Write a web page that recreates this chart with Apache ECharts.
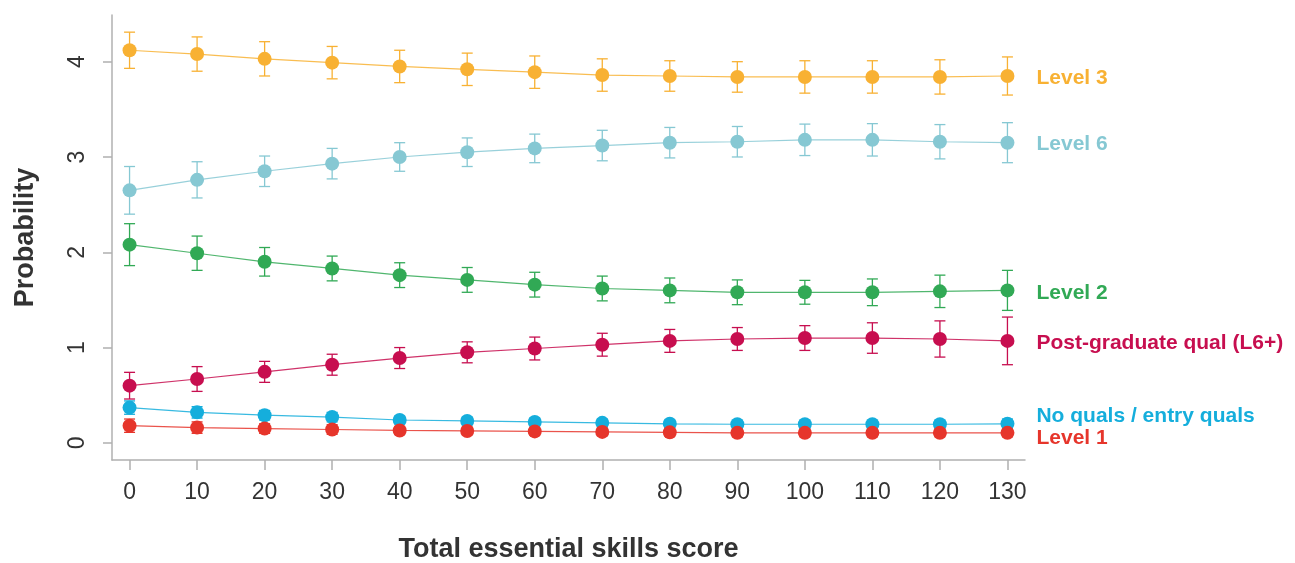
<!DOCTYPE html>
<html>
<head>
<meta charset="utf-8">
<script src="https://cdn.jsdelivr.net/npm/echarts@6/dist/echarts.min.js"></script>
<style>
html,body{margin:0;padding:0;background:#fff;}
#chart{width:1295px;height:563px;}
</style>
</head>
<body>
<div id="chart"></div>
<script>
var scores = [0, 10, 20, 30, 40, 50, 60, 70, 80, 90, 100, 110, 120, 130];
var xTicks = [0, 10, 20, 30, 40, 50, 60, 70, 80, 90, 100, 110, 120, 130];
var yTicks = [0, 1, 2, 3, 4];

var level3    = [4.12, 4.08, 4.03, 3.99, 3.95, 3.92, 3.89, 3.86, 3.85, 3.84, 3.84, 3.84, 3.84, 3.85];
var level3Err = [0.19, 0.18, 0.18, 0.17, 0.17, 0.17, 0.17, 0.17, 0.16, 0.16, 0.17, 0.17, 0.18, 0.20];

var level6    = [2.65, 2.76, 2.85, 2.93, 3.00, 3.05, 3.09, 3.12, 3.15, 3.16, 3.18, 3.18, 3.16, 3.15];
var level6Err = [0.25, 0.19, 0.16, 0.16, 0.15, 0.15, 0.15, 0.16, 0.16, 0.16, 0.165, 0.17, 0.18, 0.21];

var level2    = [2.08, 1.99, 1.90, 1.83, 1.76, 1.71, 1.66, 1.62, 1.60, 1.58, 1.58, 1.58, 1.59, 1.60];
var level2Err = [0.22, 0.18, 0.15, 0.13, 0.13, 0.13, 0.13, 0.13, 0.13, 0.13, 0.125, 0.14, 0.17, 0.21];

var postgrad    = [0.60, 0.67, 0.745, 0.82, 0.89, 0.95, 0.99, 1.03, 1.07, 1.09, 1.10, 1.10, 1.09, 1.07];
var postgradErr = [0.14, 0.13, 0.11, 0.11, 0.11, 0.11, 0.12, 0.12, 0.12, 0.12, 0.13, 0.16, 0.19, 0.25];

var noQuals    = [0.37, 0.32, 0.29, 0.27, 0.24, 0.23, 0.22, 0.21, 0.20, 0.195, 0.195, 0.195, 0.195, 0.20];
var noQualsErr = [0.07, 0.06, 0.05, 0.05, 0.04, 0.04, 0.04, 0.04, 0.04, 0.04, 0.04, 0.04, 0.04, 0.05];

var level1    = [0.18, 0.16, 0.15, 0.14, 0.13, 0.125, 0.12, 0.115, 0.11, 0.105, 0.105, 0.105, 0.105, 0.105];
var level1Err = [0.07, 0.06, 0.05, 0.05, 0.04, 0.04, 0.04, 0.04, 0.04, 0.04, 0.04, 0.04, 0.04, 0.04];

var seriesNames = ['Level 3', 'Level 6', 'Level 2', 'Post-graduate qual (L6+)', 'No quals / entry quals', 'Level 1'];
var seriesMeans = [level3, level6, level2, postgrad, noQuals, level1];
var seriesErrs  = [level3Err, level6Err, level2Err, postgradErr, noQualsErr, level1Err];
var seriesColors = ['#F8B133', '#86C8D3', '#31A955', '#C70E4F', '#15AEDC', '#E6352B'];
var labelOffsets = [[0, 2], [0, 2], [0, 3], [0, 2], [0, -8], [0, 5]];

var chart = echarts.init(document.getElementById('chart'), null, {renderer: 'canvas'});
var series = [];
seriesNames.forEach(function (name, i) {
  var color = seriesColors[i];
  var errData = scores.map(function (x, j) {
    return [x, seriesMeans[i][j] - seriesErrs[i][j], seriesMeans[i][j] + seriesErrs[i][j]];
  });
  series.push({
    type: 'custom',
    name: name + ' err',
    z: 2,
    silent: true,
    data: errData,
    encode: {x: 0, y: [1, 2]},
    renderItem: function (params, api) {
      var x = api.value(0);
      var lo = api.coord([x, api.value(1)]);
      var hi = api.coord([x, api.value(2)]);
      var hw = 5.5;
      var st = {stroke: color, lineWidth: 1.3};
      return {
        type: 'group',
        children: [
          {type: 'line', shape: {x1: lo[0], y1: lo[1], x2: hi[0], y2: hi[1]}, style: st},
          {type: 'line', shape: {x1: lo[0] - hw, y1: lo[1], x2: lo[0] + hw, y2: lo[1]}, style: st},
          {type: 'line', shape: {x1: hi[0] - hw, y1: hi[1], x2: hi[0] + hw, y2: hi[1]}, style: st}
        ]
      };
    }
  });
  series.push({
    type: 'line',
    name: name,
    z: 3,
    data: scores.map(function (x, j) { return [x, seriesMeans[i][j]]; }),
    symbol: 'circle',
    symbolSize: 14,
    showSymbol: true,
    itemStyle: {color: color},
    lineStyle: {color: color, width: 1.2, opacity: 0.85},
    endLabel: {
      show: true,
      formatter: name,
      color: color,
      fontFamily: 'Liberation Sans, Arial, sans-serif',
      fontWeight: 'bold',
      fontSize: 21,
      distance: 29,
      offset: labelOffsets[i]
    }
  });
});

var axisColor = '#b0b0b0';
var option = {
  animation: false,
  backgroundColor: '#ffffff',
  grid: {left: 112, right: 270, top: 15, bottom: 103, containLabel: false, outerBoundsMode: 'none'},
  xAxis: {
    type: 'value',
    min: -2.6,
    max: 132.6,
    name: 'Total essential skills score',
    nameLocation: 'middle',
    nameGap: 76,
    nameTextStyle: {fontFamily: 'Liberation Sans, Arial, sans-serif', fontWeight: 'bold', fontSize: 27, color: '#333333'},
    axisLine: {show: true, onZero: false, lineStyle: {color: axisColor, width: 1.5}},
    axisTick: {show: true, inside: false, length: 10, lineStyle: {color: axisColor, width: 1.5}, customValues: xTicks},
    axisLabel: {customValues: xTicks, margin: 21, fontSize: 23, color: '#333333', fontFamily: 'Liberation Sans, Arial, sans-serif'},
    splitLine: {show: false}
  },
  yAxis: {
    type: 'value',
    min: -0.18,
    max: 4.49,
    name: 'Probability',
    nameLocation: 'middle',
    nameRotate: 90,
    nameGap: 73,
    nameTextStyle: {fontFamily: 'Liberation Sans, Arial, sans-serif', fontWeight: 'bold', fontSize: 27, color: '#333333'},
    axisLine: {show: true, onZero: false, lineStyle: {color: axisColor, width: 1.5}},
    axisTick: {show: true, inside: false, length: 9, lineStyle: {color: axisColor, width: 1.5}, customValues: yTicks},
    axisLabel: {customValues: yTicks, rotate: 90, margin: 23, fontSize: 23, color: '#333333', fontFamily: 'Liberation Sans, Arial, sans-serif'},
    splitLine: {show: false}
  },
  series: series
};
chart.setOption(option);
</script>
</body>
</html>
